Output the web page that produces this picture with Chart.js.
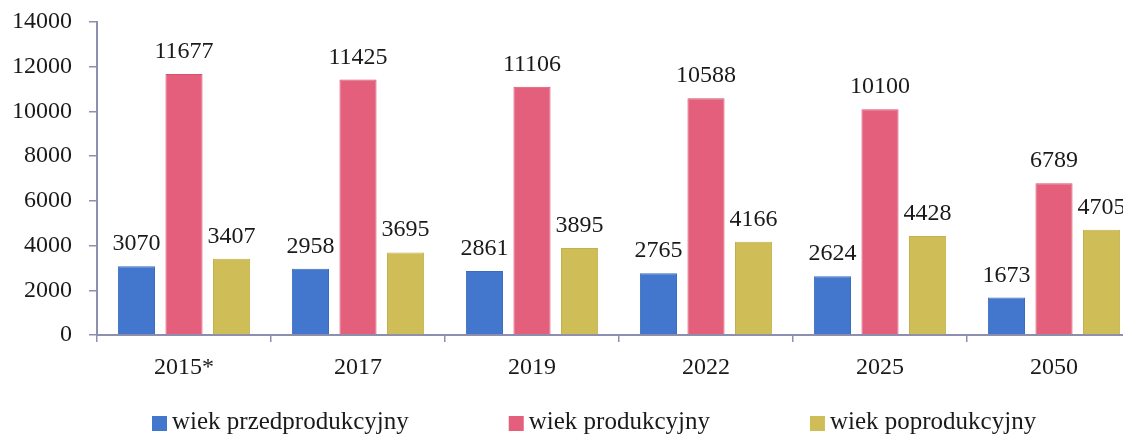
<!DOCTYPE html>
<html>
<head>
<meta charset="utf-8">
<script src="https://cdn.jsdelivr.net/npm/chart.js@4.4.1/dist/chart.umd.min.js"></script>
<style>
  html, body { margin: 0; padding: 0; background: #fff; overflow: hidden; }
  #wrap { width: 1145px; height: 434px; }
</style>
</head>
<body>
<div id="wrap"><canvas id="myChart" width="1145" height="434"></canvas></div>
<script>
// data
const years = ["2015*", "2017", "2019", "2022", "2025", "2050"];
const przedprodukcyjny = [3070, 2958, 2861, 2765, 2624, 1673];
const produkcyjny = [11677, 11425, 11106, 10588, 10100, 6789];
const poprodukcyjny = [3407, 3695, 3895, 4166, 4428, 4705];
const yTicks = [0, 2000, 4000, 6000, 8000, 10000, 12000, 14000];
const seriesNames = ["wiek przedprodukcyjny", "wiek produkcyjny", "wiek poprodukcyjny"];

const FONT = "'Liberation Serif', 'Times New Roman', serif";
const axisColor = "#8d8fae";
const textColor = "#1a1a1a";

// numbers above the bars
const valueLabels = {
  id: "valueLabels",
  afterDatasetsDraw(chart) {
    const ctx = chart.ctx;
    ctx.save();
    ctx.font = "24px " + FONT;
    ctx.fillStyle = textColor;
    ctx.textAlign = "center";
    ctx.textBaseline = "alphabetic";
    chart.data.datasets.forEach((ds, i) => {
      chart.getDatasetMeta(i).data.forEach((bar, j) => {
        ctx.fillText(String(ds.data[j]), bar.x, bar.y - 16);
      });
    });
    ctx.restore();
  },
};

// legend along the bottom, wide gaps between items
const bottomLegend = {
  id: "bottomLegend",
  afterDraw(chart) {
    const ctx = chart.ctx;
    const box = 15;
    const textGap = 5;
    const itemGap = 100;
    ctx.save();
    ctx.font = "25px " + FONT;
    const items = chart.data.datasets.map((ds) => ({
      text: ds.label,
      color: ds.backgroundColor,
      w: box + textGap + ctx.measureText(ds.label).width,
    }));
    let x = 152;
    const baseline = 429;
    items.forEach((it) => {
      ctx.fillStyle = it.color;
      ctx.fillRect(x, baseline - 13, box, box);
      ctx.fillStyle = textColor;
      ctx.textAlign = "left";
      ctx.textBaseline = "alphabetic";
      ctx.fillText(it.text, x + box + textGap, baseline);
      x += it.w + itemGap;
    });
    ctx.restore();
  },
};

const ctx = document.getElementById("myChart").getContext("2d");
const myChart = new Chart(ctx, {
  type: "bar",
  data: {
    labels: years,
    datasets: [
      {
        label: seriesNames[0],
        data: przedprodukcyjny,
        backgroundColor: "#4277cd",
        borderColor: "#3a6bbd",
        borderWidth: 1,
      },
      {
        label: seriesNames[1],
        data: produkcyjny,
        backgroundColor: "#e35f7b",
        borderColor: "#d8506d",
        borderWidth: 1,
      },
      {
        label: seriesNames[2],
        data: poprodukcyjny,
        backgroundColor: "#cfbd58",
        borderColor: "#c4b04c",
        borderWidth: 1,
      },
    ],
  },
  options: {
    responsive: false,
    animation: false,
    devicePixelRatio: 1,
    categoryPercentage: 0.82,
    barPercentage: 0.78,
    layout: { padding: { top: 22, left: 0, right: 4, bottom: 54 } },
    plugins: {
      legend: { display: false },
      tooltip: { enabled: false },
    },
    scales: {
      x: {
        afterFit: (scale) => {
          scale.height = 45;
          scale.paddingLeft = 0;
          scale.paddingRight = 0;
        },
        border: { color: axisColor, width: 2 },
        grid: {
          drawOnChartArea: false,
          drawTicks: true,
          tickLength: 7,
          color: axisColor,
          lineWidth: 1.5,
        },
        ticks: {
          font: { family: FONT, size: 24 },
          color: textColor,
          padding: 11,
          maxRotation: 0,
        },
      },
      y: {
        min: 0,
        max: 14000,
        afterFit: (scale) => {
          scale.width = 97;
          scale.paddingTop = 0;
          scale.paddingBottom = 0;
        },
        afterBuildTicks: (scale) => { scale.ticks = yTicks.map((v) => ({ value: v })); },
        border: { color: axisColor, width: 2 },
        grid: {
          drawOnChartArea: false,
          drawTicks: true,
          tickLength: 8,
          color: axisColor,
          lineWidth: 1.5,
        },
        ticks: {
          font: { family: FONT, size: 24 },
          color: textColor,
          padding: 17,
          callback: (v) => String(v),
        },
      },
    },
  },
  plugins: [valueLabels, bottomLegend],
});
</script>
</body>
</html>
